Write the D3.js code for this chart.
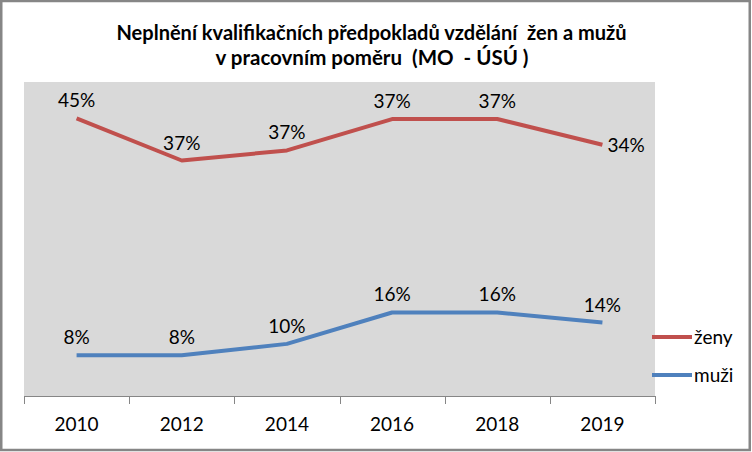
<!DOCTYPE html>
<html>
<head>
<meta charset="utf-8">
<script src="https://cdn.jsdelivr.net/npm/d3@7"></script>
<style>
  html, body { margin: 0; padding: 0; background: #fff; }
  svg { display: block; }
  text { font-family: Lato, "Open Sans", sans-serif; fill: #000; }
</style>
</head>
<body>
<svg id="chart" width="752" height="452"></svg>
<script>
// ---- data ----
const years = ["2010", "2012", "2014", "2016", "2018", "2019"];
const zenyValues = [44.2, 37.5, 39.1, 44.1, 44.1, 40.0];
const muziValues = [6.5, 6.5, 8.3, 13.3, 13.3, 11.7];
const zenyLabels = ["45%", "37%", "37%", "37%", "37%", "34%"];
const muziLabels = ["8%", "8%", "10%", "16%", "16%", "14%"];
const seriesNames = ["ženy", "muži"];
const titleLines = ["Neplnění kvalifikačních předpokladů vzdělání  žen a mužů", "v pracovním poměru  (MO  - ÚSÚ )"];

const colors = { "ženy": "#C0504D", "muži": "#4F81BD" };

const svg = d3.select("#chart");
const W = 752, H = 452;
const plot = { left: 24, right: 655, top: 82, bottom: 396 };

// outer frame
svg.append("rect").attr("x", 1.25).attr("y", 1).attr("width", 748.5).attr("height", 449)
  .attr("fill", "#fff").attr("stroke", "#868686").attr("stroke-width", 2.5);

// title
const titleWidths = [510, 313];
const titleY = [39.5, 65];
titleLines.forEach((t, i) => {
  svg.append("text")
    .attr("x", [116.5, 215.5][i]).attr("y", titleY[i])
    .attr("font-size", 20.5).attr("font-weight", "bold")
    .attr("textLength", titleWidths[i]).attr("lengthAdjust", "spacingAndGlyphs")
    .style("white-space", "pre")
    .attr("xml:space", "preserve")
    .text(t);
});

// scales
const x = d3.scaleBand().domain(years).range([plot.left, plot.right]).padding(0);
const y = d3.scaleLinear().domain([0, 50]).range([plot.bottom, plot.top]);

// plot background
svg.append("rect").attr("x", plot.left).attr("y", plot.top)
  .attr("width", plot.right - plot.left).attr("height", plot.bottom - plot.top)
  .attr("fill", "#D9D9D9");

// x axis
const xAxis = d3.axisBottom(x).tickSize(0).tickPadding(0);
const gx = svg.append("g").attr("transform", `translate(0,${plot.bottom})`).call(xAxis);
gx.select(".domain").remove();
gx.selectAll("text").remove();
svg.append("line").attr("x1", plot.left).attr("x2", plot.right)
  .attr("y1", plot.bottom + 0.5).attr("y2", plot.bottom + 0.5)
  .attr("stroke", "#868686").attr("stroke-width", 1);
const tickPos = years.map(d => x(d)).concat([x(years[years.length - 1]) + x.bandwidth()]);
svg.selectAll(".tick-mark").data(tickPos).enter().append("line")
  .attr("x1", d => Math.round(d) + 0.5).attr("x2", d => Math.round(d) + 0.5)
  .attr("y1", plot.bottom).attr("y2", plot.bottom + 8)
  .attr("stroke", "#868686").attr("stroke-width", 1);
svg.selectAll(".xlab").data(years).enter().append("text")
  .attr("x", d => x(d) + x.bandwidth() / 2).attr("y", 430.5)
  .attr("text-anchor", "middle").attr("font-size", 19)
  .text(d => d);

// lines
const series = [
  { name: "ženy", values: zenyValues, labels: zenyLabels },
  { name: "muži", values: muziValues, labels: muziLabels }
];
const line = d3.line().x((d, i) => x(years[i]) + x.bandwidth() / 2).y(d => y(d));
series.forEach(s => {
  svg.append("path").datum(s.values)
    .attr("d", line).attr("fill", "none")
    .attr("stroke", colors[s.name]).attr("stroke-width", 4)
    .attr("stroke-linejoin", "round").attr("stroke-linecap", "butt");
});

// data labels
series.forEach(s => {
  s.values.forEach((v, i) => {
    const cx = x(years[i]) + x.bandwidth() / 2;
    const cy = y(v);
    const right = (s.name === "ženy" && i === years.length - 1);
    svg.append("text")
      .attr("x", right ? cx + 5 : cx)
      .attr("y", right ? cy + 7 : cy - 11)
      .attr("text-anchor", right ? "start" : "middle")
      .attr("font-size", 19)
      .text(s.labels[i]);
  });
});

// legend
const legendY = [337, 375];
seriesNames.forEach((n, i) => {
  svg.append("line").attr("x1", 652).attr("x2", 692)
    .attr("y1", legendY[i]).attr("y2", legendY[i])
    .attr("stroke", colors[n]).attr("stroke-width", 4);
  svg.append("text").attr("x", 694).attr("y", legendY[i] + 6.5)
    .attr("font-size", 19).text(n);
});
</script>
</body>
</html>
